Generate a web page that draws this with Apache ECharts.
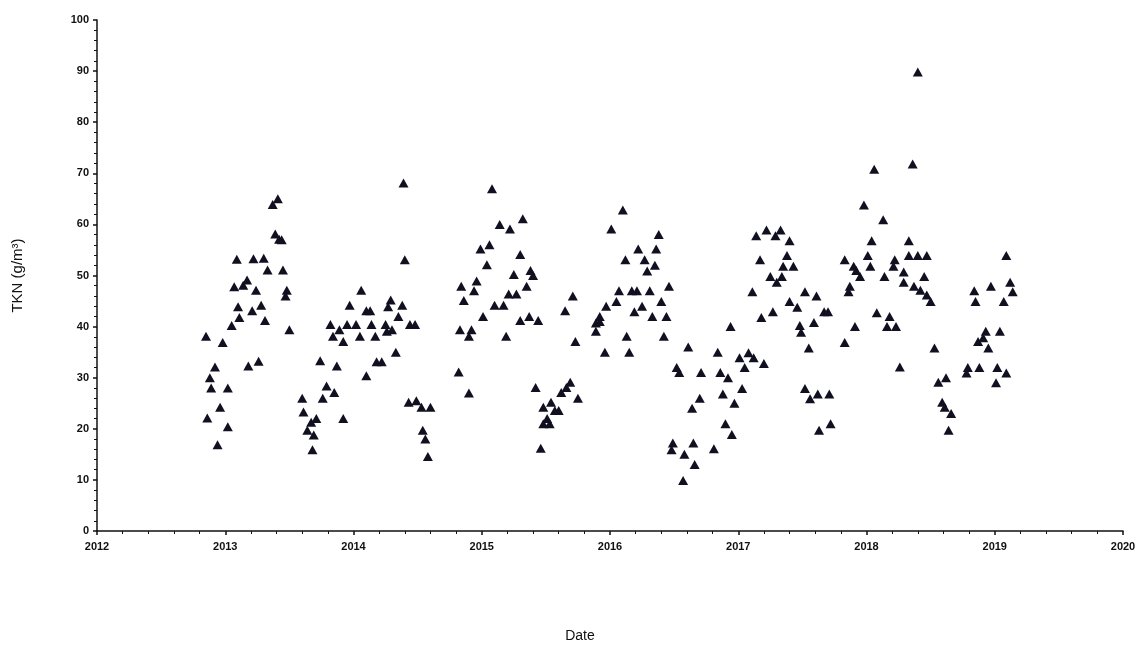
<!DOCTYPE html>
<html>
<head>
<meta charset="utf-8">
<title>TKN</title>
<script src="https://cdn.jsdelivr.net/npm/echarts@6/dist/echarts.min.js"></script>
<style>
  html, body { margin: 0; padding: 0; background: #fff; }
  #chart { width: 1142px; height: 648px; }
</style>
</head>
<body>
<div id="chart"></div>
<script>
// 数据：日期（小数年）与 TKN 值，按季节分组
var season2013 = [
  [2012.85,38.1],[2012.86,22.1],[2012.88,30.0],[2012.89,28.0],[2012.92,32.1],[2012.94,16.9],
  [2012.96,24.2],[2012.98,36.9],[2013.02,28.0],[2013.02,20.4],[2013.05,40.2],[2013.07,47.8],
  [2013.09,53.2],[2013.10,43.9],[2013.11,41.8],[2013.37,63.9],[2013.41,65.0],[2013.39,58.1],
  [2013.42,57.1],[2013.44,57.0],[2013.22,53.3],[2013.30,53.4],[2013.33,51.1],[2013.45,51.1],
  [2013.14,48.1],[2013.17,49.1],[2013.24,47.1],[2013.48,47.1],[2013.47,46.0],[2013.28,44.2],
  [2013.21,43.1],[2013.31,41.2],[2013.50,39.4],[2013.18,32.3],[2013.26,33.2]
];
var season2014 = [
  [2014.06,47.1],[2013.97,44.2],[2014.10,43.1],[2014.13,43.1],[2013.82,40.4],[2013.89,39.4],
  [2013.95,40.4],[2014.02,40.4],[2014.14,40.4],[2013.84,38.1],[2013.92,37.1],[2014.05,38.1],
  [2014.17,38.1],[2013.74,33.3],[2013.87,32.3],[2014.18,33.1],[2014.10,30.4],[2013.79,28.4],
  [2013.85,27.1],[2013.76,26.0],[2013.60,26.0],[2013.92,22.0],[2013.61,23.3],[2013.67,21.3],
  [2013.71,22.0],[2013.64,19.7],[2013.69,18.8],[2013.68,15.9],
  [2014.39,68.1],[2014.40,53.1],[2014.29,45.2],[2014.27,43.9],[2014.38,44.2],[2014.35,42.0],
  [2014.25,40.4],[2014.30,39.4],[2014.26,39.1],[2014.44,40.4],[2014.48,40.4],[2014.33,35.0],
  [2014.22,33.1],[2014.43,25.2],[2014.49,25.5],[2014.53,24.2],[2014.60,24.2],[2014.54,19.7],
  [2014.56,18.0],[2014.58,14.6]
];
var season2015 = [
  [2015.08,67.0],[2015.32,61.1],[2015.14,60.0],[2015.22,59.1],[2014.99,55.2],[2015.06,56.0],
  [2015.30,54.1],[2015.04,52.1],[2015.25,50.2],[2015.38,51.0],[2015.40,50.0],[2014.96,48.9],
  [2014.84,47.9],[2014.94,47.0],[2015.35,47.9],[2014.86,45.1],[2015.21,46.4],[2015.27,46.4],
  [2015.10,44.2],[2015.17,44.2],[2015.01,42.0],[2015.30,41.2],[2015.37,42.0],[2015.44,41.2],
  [2014.83,39.4],[2014.92,39.4],[2014.90,38.1],[2015.19,38.1],[2014.82,31.1],[2014.90,27.0],
  [2015.42,28.1],[2015.46,16.2],[2015.48,24.2],[2015.54,25.2],[2015.57,23.6],[2015.60,23.6],
  [2015.62,27.1],[2015.66,28.1],[2015.51,22.0],[2015.53,21.0],[2015.48,21.0],[2015.69,29.1],
  [2015.75,26.0],[2015.65,43.1],[2015.71,46.0],[2015.73,37.1]
];
var season2016 = [
  [2016.10,62.8],[2016.01,59.1],[2016.38,58.0],[2016.22,55.2],[2016.36,55.2],[2016.12,53.1],
  [2016.27,53.1],[2016.35,52.0],[2016.29,50.9],[2016.07,47.0],[2016.17,47.0],[2016.21,47.0],
  [2016.31,47.0],[2016.46,47.9],[2016.05,44.9],[2015.97,44.0],[2016.25,44.0],[2016.19,42.9],
  [2016.40,44.9],[2015.92,42.0],[2015.89,40.7],[2015.92,41.0],[2016.33,42.0],[2016.44,42.0],
  [2015.89,39.1],[2016.13,38.1],[2016.42,38.1],[2015.96,35.0],[2016.15,35.0],
  [2016.61,36.0],[2016.84,35.0],[2016.52,32.0],[2016.54,31.0],[2016.71,31.0],[2016.86,31.0],
  [2016.92,30.0],[2016.94,40.0],[2016.88,26.8],[2016.70,26.0],[2016.64,24.0],[2016.97,25.0],
  [2016.90,21.0],[2016.95,18.9],[2016.49,17.2],[2016.48,15.9],[2016.65,17.2],[2016.58,15.0],
  [2016.81,16.1],[2016.66,13.0],[2016.57,9.9]
];
var season2017 = [
  [2017.01,33.9],[2017.08,34.9],[2017.12,33.9],[2017.05,32.0],[2017.03,27.9],[2017.20,32.8],
  [2017.14,57.8],[2017.22,58.9],[2017.29,57.8],[2017.33,58.9],[2017.40,56.8],[2017.17,53.1],
  [2017.38,53.9],[2017.35,51.8],[2017.43,51.8],[2017.25,49.8],[2017.34,49.8],[2017.30,48.7],
  [2017.11,46.8],[2017.52,46.8],[2017.61,46.0],[2017.40,44.9],[2017.46,43.8],[2017.67,42.9],
  [2017.70,42.9],[2017.18,41.8],[2017.27,42.9],[2017.59,40.8],[2017.48,40.2],[2017.49,38.9],
  [2017.55,35.8],[2017.52,27.9],[2017.56,25.9],[2017.62,26.8],[2017.71,26.8],[2017.63,19.7],
  [2017.72,21.0]
];
var season2018 = [
  [2018.40,89.8],[2018.36,71.8],[2018.06,70.8],[2017.98,63.8],[2018.13,60.9],[2018.04,56.8],
  [2018.33,56.8],[2018.01,53.9],[2018.33,53.9],[2018.40,53.9],[2018.47,53.9],[2017.83,53.1],
  [2017.90,51.8],[2017.92,51.0],[2017.95,49.8],[2018.03,51.8],[2018.22,53.1],[2018.21,51.8],
  [2018.29,50.7],[2018.29,48.7],[2018.14,49.8],[2018.45,49.8],[2017.87,47.9],[2017.86,46.8],
  [2018.37,47.9],[2018.42,47.1],[2018.47,46.2],[2018.50,44.9],[2018.08,42.7],[2018.18,42.0],
  [2018.16,40.0],[2018.23,40.0],[2017.91,40.0],[2017.83,36.9],[2018.53,35.8],[2018.26,32.1],
  [2018.56,29.1],[2018.62,30.0],[2018.59,25.2],[2018.61,24.2],[2018.64,19.7],[2018.66,23.0]
];
var season2019 = [
  [2019.09,53.9],[2019.12,48.7],[2019.14,46.8],[2018.84,47.0],[2018.85,44.9],[2018.97,47.9],
  [2019.07,44.9],[2018.93,39.1],[2019.04,39.1],[2018.87,37.1],[2018.95,35.8],[2018.91,37.8],
  [2018.79,32.0],[2018.78,30.9],[2018.88,32.0],[2019.02,32.0],[2019.09,30.9],[2019.01,29.0]
];

var allPoints = [].concat(season2013, season2014, season2015, season2016,
                          season2017, season2018, season2019);

var chart = echarts.init(document.getElementById('chart'));

var labelFont = {
  color: '#111',
  fontFamily: 'Liberation Sans',
  fontSize: 11,
  fontWeight: 'bold'
};

var option = {
  backgroundColor: '#fff',
  animation: false,
  grid: {
    left: 97,
    right: 19,
    top: 20,
    bottom: 111
  },
  xAxis: {
    type: 'value',
    min: 2012,
    max: 2020,
    interval: 1,
    name: 'Date',
    nameLocation: 'middle',
    nameGap: 98,
    nameTextStyle: {
      color: '#111',
      fontFamily: 'Liberation Sans',
      fontSize: 14,
      padding: [0, 60, 0, 0]
    },
    axisLine: { lineStyle: { color: '#111', width: 1.5 } },
    axisTick: { show: true, length: 4, lineStyle: { color: '#111', width: 1.5 } },
    minorTick: { show: true, splitNumber: 5, length: 3, lineStyle: { color: '#111' } },
    splitLine: { show: false },
    axisLabel: Object.assign({ margin: 10, formatter: function (v) { return String(v); } }, labelFont)
  },
  yAxis: {
    type: 'value',
    min: 0,
    max: 100,
    interval: 10,
    name: 'TKN (g/m³)',
    nameLocation: 'middle',
    nameGap: 72,
    nameTextStyle: {
      color: '#111',
      fontFamily: 'Liberation Sans',
      fontSize: 15
    },
    axisLine: { show: true, lineStyle: { color: '#111', width: 1.5 } },
    axisTick: { show: true, length: 4, lineStyle: { color: '#111', width: 1.5 } },
    minorTick: { show: true, splitNumber: 5, length: 3, lineStyle: { color: '#111' } },
    splitLine: { show: false },
    axisLabel: Object.assign({ margin: 8 }, labelFont)
  },
  series: [{
    type: 'scatter',
    data: allPoints,
    symbol: 'triangle',
    symbolSize: [10, 9],
    itemStyle: { color: '#101020', opacity: 1 }
  }]
};

chart.setOption(option);
</script>
</body>
</html>
